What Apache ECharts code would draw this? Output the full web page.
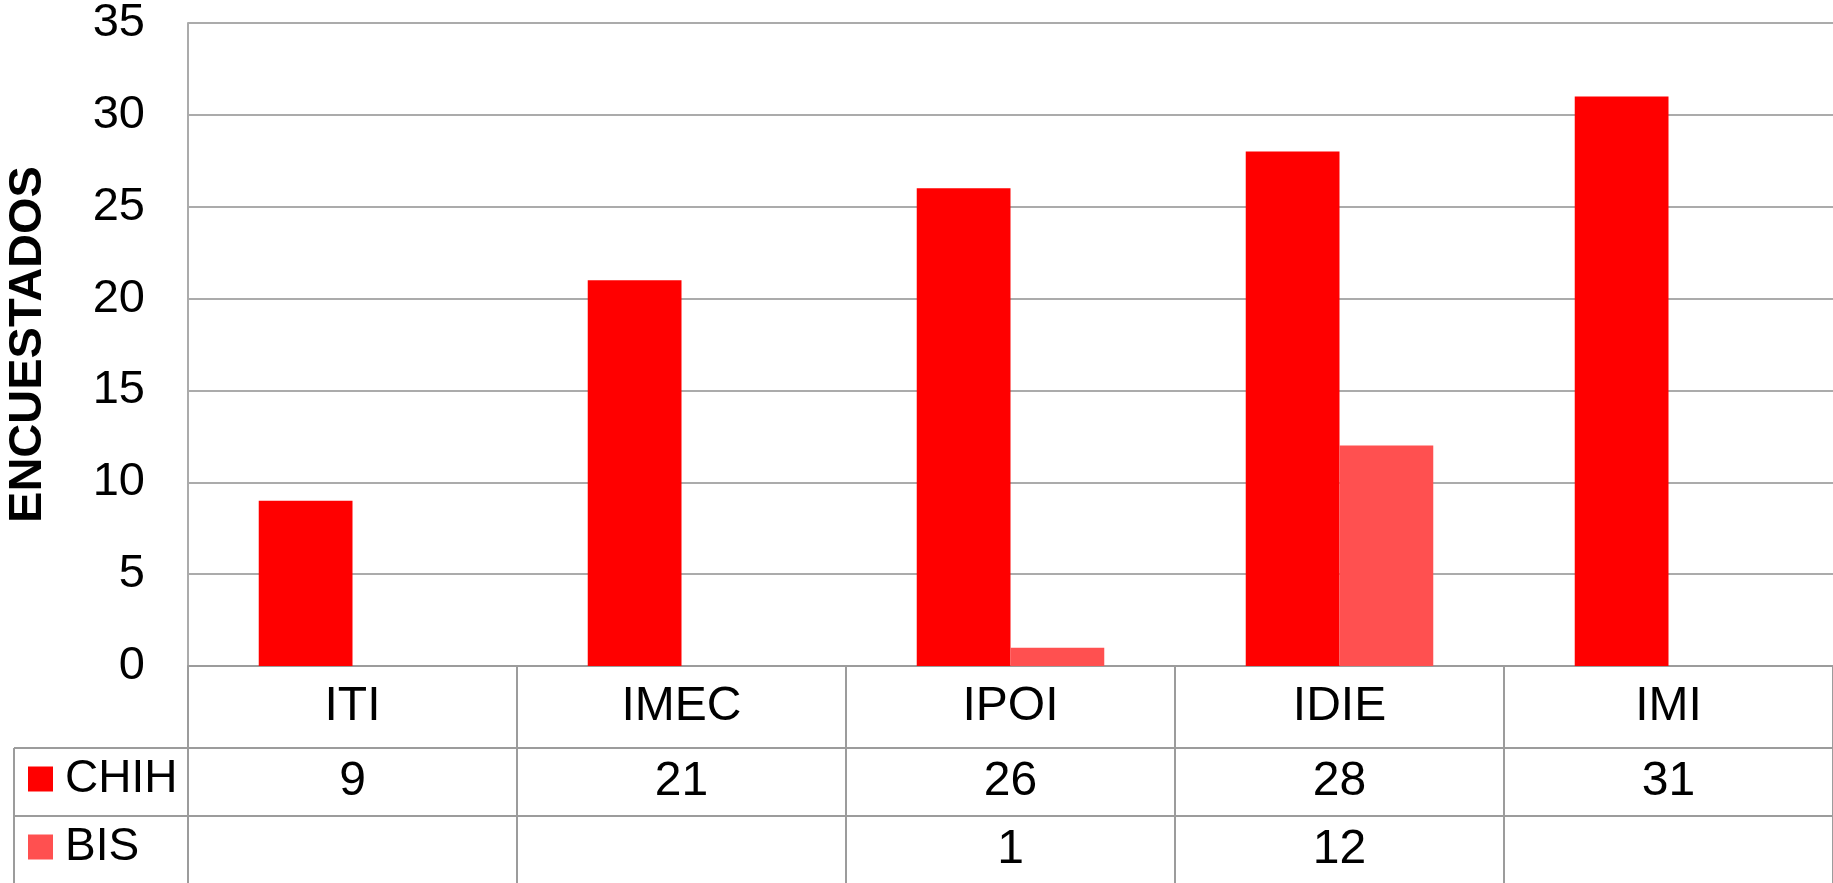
<!DOCTYPE html>
<html>
<head>
<meta charset="utf-8">
<script src="https://cdn.jsdelivr.net/npm/echarts@6/dist/echarts.min.js"></script>
<style>
  html, body { margin: 0; padding: 0; background: #fff; }
  #chart { width: 1833px; height: 883px; }
</style>
</head>
<body>
<div id="chart"></div>
<script>
const categories = ['ITI', 'IMEC', 'IPOI', 'IDIE', 'IMI']
const chihValues = [9, 21, 26, 28, 31]
const bisValues = [null, null, 1, 12, null]
const yTicks = { min: 0, max: 35, interval: 5 }

const FONT = 'Liberation Sans, Arial, sans-serif'
const gridColor = '#ababab'
const tableColor = '#9c9c9c'

// plot area and data table rows (px)
const plotTop = 23
const axisY = 666
const row1 = 82
const row2 = 68
const row3 = 67

const cellText = (arr) => arr.map((v) => (v == null ? '' : String(v)))

const chart = echarts.init(document.getElementById('chart'))

function tableAxis(labels, offset, height, withLine) {
  return {
    type: 'category',
    data: labels,
    position: 'bottom',
    offset: offset,
    boundaryGap: true,
    axisLine: { show: withLine, lineStyle: { color: tableColor, width: 2 } },
    axisTick: { show: true, interval: 0, length: height, lineStyle: { color: tableColor, width: 2 } },
    axisLabel: {
      interval: 0,
      margin: 0,
      color: '#000',
      fontFamily: FONT,
      fontSize: 48,
      lineHeight: height,
      verticalAlign: 'top',
    },
    splitLine: { show: false },
  }
}

chart.setOption({
  animation: false,
  backgroundColor: '#fff',
  grid: {
    left: 188,
    right: 0,
    top: plotTop,
    bottom: 883 - axisY,
    containLabel: false,
    outerBoundsMode: 'none',
  },
  legend: {
    orient: 'vertical',
    left: 23,
    top: 750,
    itemWidth: 25,
    itemHeight: 25,
    itemGap: 20,
    icon: 'rect',
    textStyle: { color: '#000', fontFamily: FONT, fontSize: 46, lineHeight: 48, padding: [0, 0, 0, 7] },
    data: ['CHIH', 'BIS'],
  },
  xAxis: [
    tableAxis(categories, 0, row1, true),
    tableAxis(cellText(chihValues), row1, row2, true),
    tableAxis(cellText(bisValues), row1 + row2, row3, true),
  ],
  yAxis: {
    type: 'value',
    min: yTicks.min,
    max: yTicks.max,
    interval: yTicks.interval,
    name: 'ENCUESTADOS',
    nameLocation: 'middle',
    nameRotate: 90,
    nameGap: 136,
    nameTextStyle: { color: '#000', fontFamily: FONT, fontSize: 47, fontWeight: 'bold' },
    axisLine: { show: true, lineStyle: { color: gridColor, width: 2 } },
    axisTick: { show: false },
    axisLabel: { color: '#000', fontFamily: FONT, fontSize: 47, margin: 43 },
    splitLine: { lineStyle: { color: gridColor, width: 2 } },
  },
  graphic: [
    // left cells of the data table (legend column)
    { type: 'line', shape: { x1: 14, y1: axisY + row1, x2: 188, y2: axisY + row1 }, style: { stroke: tableColor, lineWidth: 2 } },
    { type: 'line', shape: { x1: 14, y1: axisY + row1 + row2, x2: 188, y2: axisY + row1 + row2 }, style: { stroke: tableColor, lineWidth: 2 } },
    { type: 'line', shape: { x1: 14, y1: axisY + row1, x2: 14, y2: 883 }, style: { stroke: tableColor, lineWidth: 2 } },
  ],
  series: [
    {
      name: 'CHIH',
      type: 'bar',
      data: chihValues,
      barGap: 0,
      barCategoryGap: '43%',
      itemStyle: { color: '#ff0000' },
    },
    {
      name: 'BIS',
      type: 'bar',
      data: bisValues,
      barGap: 0,
      barCategoryGap: '43%',
      itemStyle: { color: '#ff5050' },
    },
  ],
})
</script>
</body>
</html>
